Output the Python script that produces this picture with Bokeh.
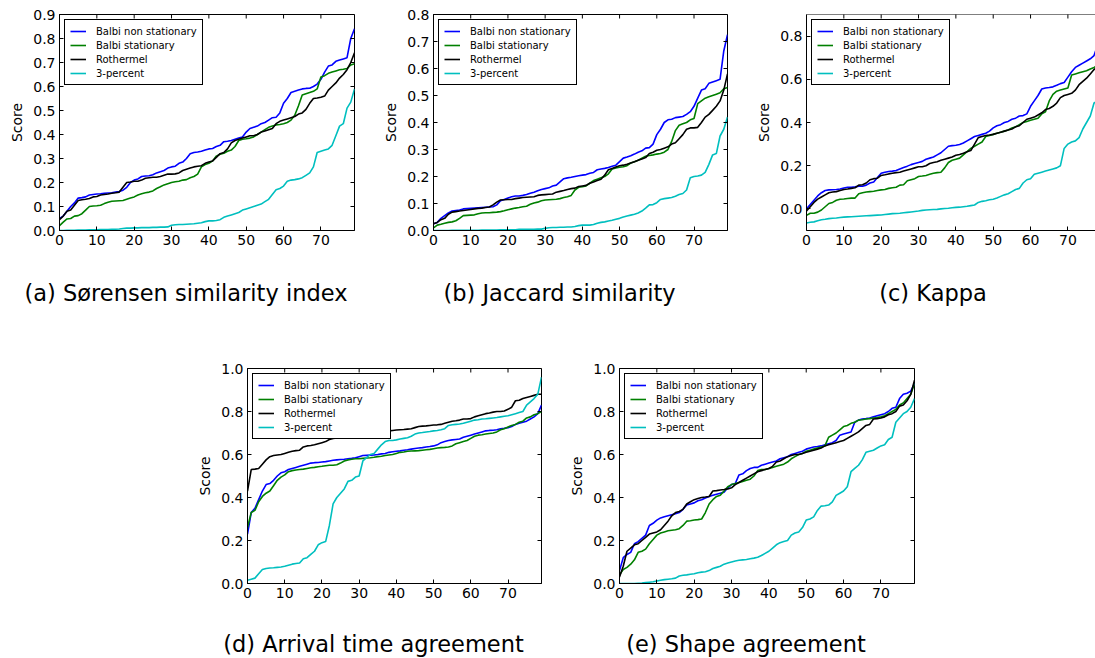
import math
from bokeh.plotting import figure
from bokeh.models import (LinearAxis, FixedTicker, PrintfTickFormatter, Range1d,
                          Legend, LegendItem, Spacer, Span)
from bokeh.core.properties import value
from bokeh.layouts import row, column
from bokeh.embed import file_html
from bokeh.resources import INLINE

# ---------------- data ----------------
runs = list(range(80))
series_names = ["Balbi non stationary", "Balbi stationary", "Rothermel", "3-percent"]
series_colors = ["#0000ff", "#008000", "#000000", "#00bfbf"]
x_ticks = [0, 10, 20, 30, 40, 50, 60, 70]

sorensen_balbi_ns = [0.05,0.06,0.08,0.10,0.115,0.135,0.137,0.14,0.148,0.15,
    0.152,0.153,0.155,0.156,0.157,0.16,0.162,0.168,0.18,0.20,
    0.21,0.215,0.225,0.227,0.228,0.232,0.24,0.245,0.25,0.26,
    0.265,0.268,0.28,0.285,0.30,0.32,0.325,0.327,0.33,0.335,
    0.34,0.342,0.35,0.355,0.37,0.372,0.375,0.38,0.385,0.39,
    0.41,0.425,0.43,0.435,0.445,0.45,0.46,0.47,0.472,0.49,
    0.53,0.55,0.575,0.58,0.585,0.59,0.592,0.593,0.60,0.61,
    0.63,0.66,0.685,0.69,0.705,0.71,0.715,0.72,0.80,0.84]
sorensen_balbi_s = [0.02,0.035,0.048,0.05,0.06,0.062,0.07,0.085,0.10,0.102,
    0.103,0.105,0.112,0.118,0.122,0.123,0.124,0.125,0.13,0.135,
    0.14,0.148,0.153,0.157,0.16,0.165,0.175,0.182,0.19,0.195,
    0.20,0.203,0.205,0.21,0.212,0.22,0.225,0.235,0.265,0.275,
    0.28,0.29,0.31,0.318,0.322,0.33,0.335,0.35,0.375,0.38,
    0.382,0.385,0.39,0.40,0.41,0.42,0.43,0.435,0.44,0.442,
    0.445,0.45,0.46,0.48,0.52,0.565,0.57,0.575,0.58,0.59,
    0.64,0.645,0.655,0.66,0.665,0.67,0.672,0.675,0.69,0.695]
sorensen_rothermel = [0.045,0.06,0.08,0.085,0.105,0.125,0.128,0.13,0.133,0.14,
    0.142,0.148,0.15,0.152,0.155,0.157,0.16,0.18,0.20,0.202,
    0.205,0.205,0.21,0.218,0.22,0.222,0.222,0.225,0.23,0.235,
    0.235,0.236,0.24,0.25,0.255,0.26,0.265,0.268,0.27,0.28,
    0.285,0.29,0.305,0.32,0.325,0.34,0.365,0.375,0.38,0.385,
    0.39,0.395,0.395,0.40,0.41,0.415,0.42,0.425,0.445,0.455,
    0.46,0.465,0.47,0.475,0.485,0.49,0.505,0.53,0.55,0.552,
    0.555,0.56,0.585,0.60,0.615,0.635,0.65,0.67,0.70,0.74]
sorensen_3pct = [0.0,0.0,0.001,0.001,0.001,0.002,0.002,0.002,0.003,0.003,
    0.003,0.004,0.004,0.004,0.005,0.005,0.006,0.008,0.01,0.01,
    0.011,0.011,0.012,0.012,0.012,0.013,0.013,0.014,0.014,0.015,
    0.022,0.024,0.025,0.025,0.026,0.027,0.028,0.03,0.032,0.037,
    0.04,0.04,0.042,0.045,0.055,0.06,0.065,0.07,0.075,0.085,
    0.09,0.095,0.10,0.105,0.11,0.12,0.13,0.15,0.17,0.175,
    0.185,0.205,0.21,0.212,0.215,0.22,0.23,0.24,0.265,0.325,
    0.33,0.335,0.34,0.355,0.395,0.435,0.445,0.51,0.535,0.59]

jaccard_balbi_ns = [0.025,0.03,0.045,0.055,0.065,0.072,0.074,0.076,0.08,0.081,
    0.082,0.083,0.084,0.085,0.086,0.087,0.088,0.095,0.11,0.115,
    0.12,0.125,0.128,0.128,0.13,0.133,0.138,0.142,0.147,0.152,
    0.155,0.158,0.165,0.168,0.18,0.192,0.195,0.197,0.20,0.203,
    0.205,0.207,0.212,0.215,0.225,0.228,0.23,0.233,0.238,0.242,
    0.255,0.268,0.272,0.277,0.283,0.29,0.295,0.305,0.307,0.32,
    0.355,0.375,0.40,0.41,0.412,0.418,0.42,0.422,0.43,0.44,
    0.46,0.49,0.52,0.525,0.545,0.55,0.555,0.56,0.665,0.725]
jaccard_balbi_s = [0.01,0.02,0.023,0.027,0.03,0.032,0.036,0.045,0.055,0.056,
    0.057,0.058,0.062,0.065,0.066,0.066,0.067,0.068,0.07,0.073,
    0.077,0.08,0.083,0.085,0.088,0.09,0.097,0.102,0.105,0.11,
    0.113,0.114,0.115,0.116,0.118,0.122,0.125,0.13,0.15,0.16,
    0.162,0.165,0.175,0.185,0.19,0.195,0.20,0.21,0.228,0.232,
    0.234,0.236,0.24,0.25,0.255,0.26,0.268,0.275,0.278,0.28,
    0.283,0.285,0.29,0.30,0.33,0.37,0.39,0.395,0.40,0.41,
    0.415,0.47,0.48,0.49,0.495,0.50,0.505,0.51,0.525,0.53]
jaccard_rothermel = [0.025,0.03,0.04,0.045,0.06,0.068,0.07,0.072,0.074,0.076,
    0.078,0.08,0.082,0.083,0.085,0.087,0.095,0.105,0.113,0.114,
    0.115,0.115,0.118,0.12,0.122,0.123,0.124,0.125,0.13,0.132,
    0.133,0.134,0.135,0.142,0.145,0.148,0.152,0.155,0.157,0.163,
    0.165,0.167,0.175,0.18,0.185,0.19,0.205,0.225,0.23,0.235,
    0.24,0.242,0.245,0.25,0.255,0.26,0.265,0.27,0.285,0.29,
    0.297,0.30,0.305,0.31,0.32,0.325,0.34,0.355,0.375,0.38,
    0.38,0.382,0.40,0.42,0.43,0.445,0.46,0.48,0.52,0.58]
jaccard_3pct = [0.0,0.0,0.0,0.0,0.0,0.001,0.001,0.001,0.001,0.001,
    0.001,0.001,0.001,0.002,0.002,0.002,0.002,0.002,0.003,0.003,
    0.003,0.003,0.003,0.004,0.004,0.004,0.004,0.004,0.005,0.005,
    0.008,0.01,0.011,0.011,0.012,0.012,0.013,0.013,0.015,0.018,
    0.02,0.02,0.02,0.022,0.027,0.03,0.032,0.035,0.038,0.042,
    0.045,0.05,0.054,0.057,0.06,0.065,0.072,0.083,0.095,0.096,
    0.103,0.115,0.118,0.12,0.122,0.127,0.133,0.137,0.15,0.195,
    0.20,0.202,0.205,0.215,0.245,0.28,0.285,0.35,0.375,0.42]

kappa_balbi_ns = [0.0,0.02,0.04,0.06,0.075,0.085,0.088,0.089,0.09,0.092,
    0.097,0.10,0.10,0.102,0.105,0.105,0.11,0.12,0.125,0.145,
    0.165,0.17,0.173,0.175,0.178,0.185,0.192,0.198,0.205,0.21,
    0.215,0.22,0.23,0.235,0.24,0.25,0.26,0.275,0.29,0.293,
    0.295,0.298,0.305,0.315,0.325,0.335,0.34,0.345,0.35,0.36,
    0.375,0.385,0.39,0.40,0.405,0.415,0.42,0.43,0.432,0.44,
    0.475,0.50,0.525,0.555,0.56,0.562,0.565,0.572,0.58,0.585,
    0.61,0.635,0.655,0.665,0.675,0.685,0.695,0.71,0.76,0.78]
kappa_balbi_s = [-0.03,-0.02,-0.02,-0.015,-0.005,0.01,0.025,0.03,0.04,0.045,
    0.046,0.048,0.05,0.05,0.07,0.075,0.078,0.08,0.082,0.085,
    0.088,0.09,0.095,0.098,0.10,0.11,0.112,0.13,0.135,0.14,
    0.15,0.152,0.155,0.16,0.165,0.168,0.17,0.19,0.215,0.225,
    0.23,0.235,0.25,0.265,0.28,0.29,0.30,0.31,0.335,0.34,
    0.345,0.35,0.355,0.36,0.365,0.375,0.38,0.39,0.40,0.405,
    0.41,0.415,0.42,0.44,0.45,0.50,0.53,0.545,0.55,0.555,
    0.56,0.62,0.625,0.63,0.635,0.64,0.648,0.655,0.665,0.67]
kappa_rothermel = [-0.01,0.01,0.03,0.045,0.055,0.065,0.075,0.078,0.08,0.085,
    0.09,0.092,0.095,0.098,0.11,0.112,0.12,0.135,0.14,0.142,
    0.155,0.158,0.162,0.165,0.168,0.17,0.175,0.18,0.185,0.19,
    0.195,0.195,0.20,0.21,0.215,0.218,0.225,0.23,0.235,0.24,
    0.248,0.252,0.258,0.265,0.27,0.30,0.33,0.335,0.34,0.342,
    0.345,0.35,0.355,0.36,0.365,0.37,0.38,0.385,0.40,0.415,
    0.42,0.425,0.435,0.445,0.46,0.465,0.475,0.49,0.515,0.525,
    0.53,0.535,0.55,0.575,0.59,0.605,0.625,0.645,0.66,0.67]
kappa_3pct = [-0.065,-0.062,-0.06,-0.055,-0.05,-0.048,-0.045,-0.043,-0.042,-0.04,
    -0.038,-0.037,-0.036,-0.035,-0.034,-0.033,-0.032,-0.031,-0.03,-0.029,
    -0.028,-0.026,-0.024,-0.022,-0.021,-0.02,-0.018,-0.016,-0.014,-0.012,
    -0.01,-0.007,-0.005,-0.004,-0.003,-0.002,0.0,0.002,0.003,0.005,
    0.007,0.008,0.01,0.012,0.015,0.018,0.03,0.035,0.038,0.042,
    0.045,0.05,0.058,0.065,0.07,0.08,0.09,0.095,0.12,0.135,
    0.14,0.16,0.165,0.17,0.175,0.18,0.185,0.19,0.20,0.28,
    0.30,0.31,0.315,0.33,0.37,0.40,0.43,0.49,0.50,0.52]

arrival_balbi_ns = [0.23,0.33,0.35,0.39,0.43,0.46,0.465,0.48,0.50,0.515,
    0.52,0.53,0.535,0.54,0.545,0.55,0.555,0.56,0.562,0.563,
    0.565,0.567,0.57,0.573,0.575,0.577,0.578,0.58,0.582,0.585,
    0.59,0.595,0.596,0.597,0.598,0.60,0.603,0.605,0.61,0.613,
    0.615,0.617,0.62,0.622,0.625,0.628,0.63,0.632,0.635,0.637,
    0.64,0.645,0.655,0.66,0.665,0.668,0.67,0.672,0.68,0.685,
    0.69,0.695,0.70,0.705,0.71,0.712,0.713,0.715,0.72,0.722,
    0.725,0.73,0.74,0.745,0.75,0.755,0.765,0.775,0.79,0.83]
arrival_balbi_s = [0.26,0.33,0.34,0.38,0.405,0.42,0.43,0.455,0.48,0.495,
    0.505,0.52,0.525,0.528,0.53,0.532,0.535,0.538,0.54,0.543,
    0.545,0.548,0.55,0.55,0.552,0.56,0.57,0.575,0.578,0.58,
    0.58,0.582,0.584,0.585,0.587,0.59,0.592,0.595,0.598,0.60,
    0.605,0.61,0.612,0.615,0.616,0.617,0.618,0.62,0.622,0.624,
    0.627,0.63,0.632,0.633,0.635,0.64,0.65,0.655,0.66,0.665,
    0.675,0.685,0.69,0.692,0.695,0.698,0.70,0.705,0.715,0.72,
    0.728,0.735,0.74,0.75,0.755,0.77,0.775,0.785,0.79,0.80]
arrival_rothermel = [0.43,0.53,0.532,0.535,0.555,0.575,0.59,0.595,0.598,0.60,
    0.605,0.61,0.615,0.618,0.62,0.635,0.64,0.642,0.645,0.65,
    0.655,0.66,0.67,0.675,0.677,0.69,0.69,0.692,0.693,0.695,
    0.697,0.70,0.70,0.702,0.703,0.705,0.707,0.708,0.71,0.712,
    0.714,0.715,0.716,0.718,0.72,0.725,0.73,0.732,0.733,0.735,
    0.737,0.738,0.74,0.745,0.75,0.755,0.757,0.76,0.765,0.765,
    0.767,0.775,0.78,0.785,0.79,0.793,0.797,0.80,0.80,0.802,
    0.81,0.82,0.85,0.852,0.86,0.865,0.87,0.875,0.88,0.88]
arrival_3pct = [0.015,0.02,0.025,0.045,0.065,0.07,0.072,0.073,0.075,0.077,
    0.08,0.085,0.09,0.093,0.095,0.115,0.12,0.135,0.15,0.18,
    0.19,0.195,0.27,0.37,0.40,0.42,0.44,0.475,0.48,0.495,
    0.50,0.57,0.585,0.60,0.605,0.625,0.645,0.66,0.665,0.665,
    0.668,0.672,0.675,0.678,0.685,0.695,0.70,0.702,0.705,0.707,
    0.71,0.712,0.715,0.72,0.735,0.738,0.74,0.742,0.745,0.75,
    0.755,0.76,0.762,0.765,0.766,0.768,0.77,0.772,0.775,0.778,
    0.78,0.785,0.79,0.795,0.80,0.83,0.845,0.86,0.88,0.96]

shape_balbi_ns = [0.06,0.12,0.135,0.145,0.185,0.195,0.21,0.225,0.27,0.28,
    0.295,0.305,0.31,0.315,0.32,0.325,0.33,0.345,0.365,0.37,
    0.375,0.385,0.39,0.398,0.405,0.41,0.415,0.42,0.425,0.445,
    0.46,0.465,0.505,0.51,0.525,0.535,0.54,0.54,0.55,0.555,
    0.56,0.565,0.57,0.58,0.585,0.59,0.60,0.605,0.61,0.615,
    0.625,0.63,0.635,0.637,0.64,0.645,0.65,0.655,0.665,0.69,
    0.695,0.70,0.705,0.75,0.76,0.765,0.767,0.77,0.775,0.78,
    0.785,0.79,0.80,0.815,0.82,0.86,0.88,0.885,0.895,0.93]
shape_balbi_s = [0.04,0.065,0.075,0.09,0.11,0.145,0.15,0.16,0.185,0.205,
    0.225,0.235,0.24,0.245,0.248,0.25,0.255,0.27,0.29,0.292,
    0.295,0.297,0.30,0.33,0.37,0.39,0.405,0.41,0.43,0.45,
    0.46,0.465,0.47,0.475,0.48,0.485,0.50,0.525,0.53,0.53,
    0.535,0.54,0.545,0.55,0.555,0.565,0.58,0.59,0.60,0.605,
    0.615,0.62,0.625,0.63,0.635,0.64,0.68,0.69,0.70,0.715,
    0.73,0.735,0.745,0.75,0.76,0.762,0.765,0.767,0.77,0.772,
    0.775,0.78,0.79,0.80,0.81,0.83,0.84,0.86,0.88,0.93]
shape_rothermel = [0.03,0.08,0.15,0.165,0.18,0.185,0.20,0.215,0.23,0.235,
    0.24,0.25,0.27,0.29,0.315,0.33,0.335,0.345,0.37,0.38,
    0.39,0.395,0.40,0.402,0.405,0.43,0.432,0.435,0.437,0.44,
    0.445,0.46,0.47,0.48,0.49,0.50,0.51,0.52,0.525,0.53,
    0.535,0.545,0.565,0.57,0.58,0.59,0.595,0.60,0.60,0.605,
    0.61,0.615,0.62,0.625,0.63,0.64,0.645,0.65,0.655,0.66,
    0.665,0.675,0.685,0.695,0.705,0.72,0.735,0.74,0.765,0.767,
    0.77,0.775,0.785,0.79,0.80,0.825,0.83,0.85,0.88,0.945]
shape_3pct = [0.0,0.0,0.0,0.0,0.0,0.001,0.002,0.004,0.006,0.008,
    0.012,0.015,0.018,0.02,0.022,0.025,0.035,0.038,0.04,0.043,
    0.045,0.05,0.053,0.055,0.06,0.07,0.075,0.08,0.09,0.095,
    0.10,0.105,0.108,0.11,0.112,0.115,0.118,0.122,0.13,0.14,
    0.15,0.165,0.18,0.19,0.195,0.20,0.225,0.235,0.24,0.26,
    0.295,0.30,0.31,0.34,0.36,0.362,0.365,0.38,0.41,0.42,
    0.43,0.45,0.52,0.535,0.55,0.575,0.61,0.615,0.62,0.63,
    0.64,0.645,0.67,0.68,0.75,0.77,0.79,0.80,0.82,0.86]

panel_titles = ["(a) Sørensen similarity index", "(b) Jaccard similarity", "(c) Kappa",
                "(d) Arrival time agreement", "(e) Shape agreement"]
ticks_01 = [0.0, 0.1, 0.2, 0.3, 0.4, 0.5, 0.6, 0.7, 0.8, 0.9]
ticks_02 = [0.0, 0.2, 0.4, 0.6, 0.8, 1.0]

FONT = "DejaVu Sans"
PX_PER_RUN = 295 / 79.0


def labelled_axis(ticks, fmt=None, label=None):
    ax = LinearAxis(ticker=FixedTicker(ticks=ticks, minor_ticks=[]),
                    major_tick_in=4, major_tick_out=0,
                    minor_tick_in=0, minor_tick_out=0,
                    axis_line_color="black", axis_line_width=1,
                    major_tick_line_color="black", major_tick_line_width=1,
                    major_label_text_font=FONT, major_label_text_font_size="14px",
                    major_label_text_color="black", major_label_standoff=4)
    if fmt is not None:
        ax.formatter = fmt
    if label:
        ax.axis_label = label
        ax.axis_label_text_font = FONT
        ax.axis_label_text_font_size = "14px"
        ax.axis_label_text_font_style = "normal"
        ax.axis_label_text_color = "black"
        ax.axis_label_standoff = 5
    return ax


def make_panel(data, y0, y1, yticks, fw, fh, bl, br, bt, bb, x_end, full_box=True):
    p = figure(width=bl + fw + br, height=bt + fh + bb,
               x_range=Range1d(0, x_end), y_range=Range1d(y0, y1),
               min_border_left=bl, min_border_right=br,
               min_border_top=bt, min_border_bottom=bb,
               toolbar_location=None, output_backend="svg",
               x_axis_location=None, y_axis_location=None,
               background_fill_color="white", border_fill_color="white",
               outline_line_color="black" if full_box else None,
               outline_line_width=1, outline_line_alpha=1.0)
    p.grid.visible = False
    p.add_layout(labelled_axis(x_ticks), "below")
    p.add_layout(labelled_axis(yticks, PrintfTickFormatter(format="%.1f"), "Score"), "left")

    items = []
    for vals, name, col in zip(data, series_names, series_colors):
        r = p.line(runs, vals, line_color=col, line_width=1.6)
        items.append(LegendItem(label=name, renderers=[r]))

    # inward ticks on the top edge (and right edge), half of each dash is clipped by the frame
    p.scatter(x_ticks, [y1] * len(x_ticks), marker="dash", size=8, angle=math.pi / 2,
              line_color="black", line_width=1)
    if full_box:
        p.scatter([x_end] * len(yticks), yticks, marker="dash", size=8,
                  line_color="black", line_width=1)
    else:
        p.add_layout(Span(location=y1, dimension="width", line_color="black", line_width=1))

    legend = Legend(items=items, location="top_left", margin=5, padding=5,
                    spacing=2, glyph_width=16, glyph_height=12, label_height=12,
                    label_standoff=10, label_text_font=FONT,
                    label_text_font_size="10px", label_text_color="black",
                    border_line_color="black", border_line_width=1,
                    border_line_alpha=1.0, background_fill_color="white",
                    background_fill_alpha=1.0)
    p.add_layout(legend)
    return p


def make_caption(text, width, height, cx, dy):
    c = figure(width=width, height=height, x_range=Range1d(0, width), y_range=Range1d(0, height),
               min_border=0, toolbar_location=None, output_backend="svg",
               x_axis_location=None, y_axis_location=None, outline_line_color=None,
               background_fill_color="white", border_fill_color="white")
    c.grid.visible = False
    c.text(x=[cx], y=[height - dy], text=[text], text_align="center", text_baseline="middle",
           text_font=value(FONT), text_font_size=value("22.5px"), text_color="black")
    return c


# row 1 geometry (frames at x 59, 433, 806 ; y 14..230)
pa = make_panel([sorensen_balbi_ns, sorensen_balbi_s, sorensen_rothermel, sorensen_3pct],
                0.0, 0.9, ticks_01, 295, 216, 59, 25, 14, 30, 79)
pb = make_panel([jaccard_balbi_ns, jaccard_balbi_s, jaccard_rothermel, jaccard_3pct],
                0.0, 0.8, ticks_01[:9], 294, 216, 54, 25, 14, 30, 79)
pc = make_panel([kappa_balbi_ns, kappa_balbi_s, kappa_rothermel, kappa_3pct],
                -0.1, 0.9, ticks_02[:5], 289, 216, 54, 0, 14, 30, 289 / PX_PER_RUN,
                full_box=False)
# row 2 geometry (frames at x 247, 619 ; y 368..583)
pd = make_panel([arrival_balbi_ns, arrival_balbi_s, arrival_rothermel, arrival_3pct],
                0.0, 1.0, ticks_02, 294, 215, 54, 24, 6, 30, 79)
pe = make_panel([shape_balbi_ns, shape_balbi_s, shape_rothermel, shape_3pct],
                0.0, 1.0, ticks_02, 295, 215, 54, 28, 6, 30, 79)

ca = make_caption(panel_titles[0], 379, 102, 59 + 147.5 - 21, 32)
cb = make_caption(panel_titles[1], 373, 102, 54 + 147 - 21, 32)
cc = make_caption(panel_titles[2], 343, 102, 54 + 147.5 - 21, 32)
cd = make_caption(panel_titles[3], 372, 45, 54 + 147 - 21, 30)
ce = make_caption(panel_titles[4], 377, 45, 54 + 147.5 - 21, 30)

layout = column(
    row(pa, pb, pc),
    row(ca, cb, cc),
    row(Spacer(width=193, height=251), pd, pe),
    row(Spacer(width=193, height=45), cd, ce),
)

open("out.html", "w").write(file_html(layout, INLINE))
